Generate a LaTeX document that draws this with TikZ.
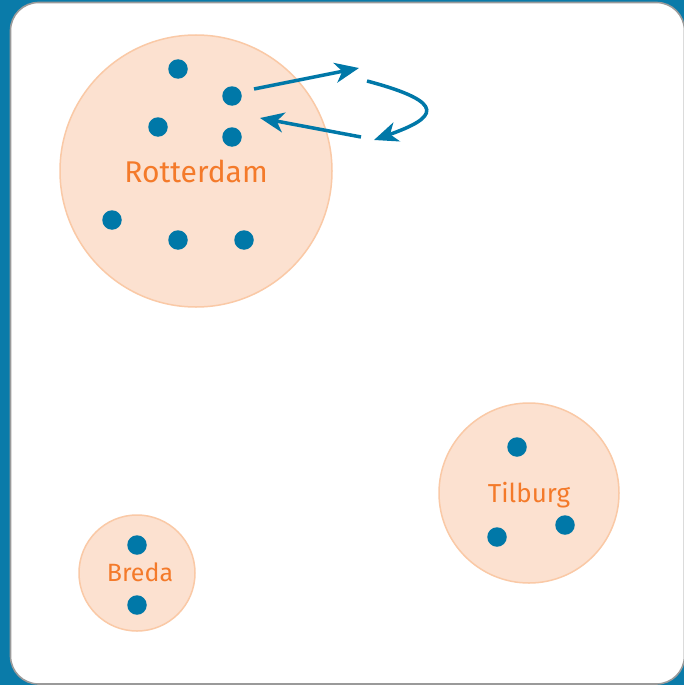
\documentclass[tikz,border=0pt]{standalone}
\usepackage{fontspec}
\setmainfont{Fira Sans}
\usetikzlibrary{arrows.meta}
\definecolor{sea}{HTML}{0A7BA9}
\definecolor{dotblue}{HTML}{0078A8}
\definecolor{peach}{HTML}{FCE1D0}
\definecolor{peachline}{HTML}{FAC9A6}
\definecolor{cityorange}{HTML}{F47A2A}
\definecolor{frame}{HTML}{9A9A9A}
\tikzset{
  city/.style={circle, fill=peach, draw=peachline, line width=1.5pt, inner sep=0pt},
  cityname/.style={text=cityorange, inner sep=0pt, anchor=base},
  member/.style={circle, fill=dotblue, inner sep=0pt, minimum size=19.5pt},
  move/.style={draw=dotblue, line width=3.5pt, -{Stealth[length=24pt, width=20pt, inset=7pt]}},
}
\begin{document}
\begin{tikzpicture}[x=1pt, y=-1pt]
  % sea background and land panel
  \fill[sea] (0,0) rectangle (684,685);
  \useasboundingbox (0,0) rectangle (684,685);
  \draw[fill=white, draw=frame, line width=1.6pt, rounded corners=28pt]
    (10.5,2.5) rectangle (684.5,684);

  % cities
  \node[city, minimum size=272pt] (rot) at (196,171) {};
  \node[city, minimum size=180pt] (til) at (529,493) {};
  \node[city, minimum size=116pt] (bre) at (137,573) {};

  \node[cityname, font=\fontsize{30pt}{35pt}\selectfont] (rotlabel) at (196,182) {Rotterdam};
  \node[cityname, font=\fontsize{26pt}{30pt}\selectfont] (tillabel) at (529,502) {Tilburg};
  \node[cityname, font=\fontsize{25pt}{29pt}\selectfont] (brelabel) at (140,581) {Breda};

  % members in Rotterdam
  \node[member] (r1) at (178,69) {};
  \node[member] (r2) at (232,96) {};
  \node[member] (r3) at (158,127) {};
  \node[member] (r4) at (232,137) {};
  \node[member] (r5) at (112,220) {};
  \node[member] (r6) at (178,240) {};
  \node[member] (r7) at (244,240) {};
  % members in Tilburg
  \node[member] (t1) at (517,447) {};
  \node[member] (t2) at (497,537) {};
  \node[member] (t3) at (565,525) {};
  % members in Breda
  \node[member] (b1) at (137,545) {};
  \node[member] (b2) at (137,605) {};

  % movement out of and back into Rotterdam
  \coordinate (outend) at (359,68);
  \coordinate (loopstart) at (367,81);
  \coordinate (loopend) at (374,140);
  \coordinate (backstart) at (361,137);
  \coordinate (backend) at (260,118);
  \coordinate (outstart) at (254,89);
  \draw[move] (outstart) -- (outend);
  \draw[move] (loopstart) .. controls (450,103) and (436,118) .. (loopend);
  \draw[move] (backstart) -- (backend);
\end{tikzpicture}
\end{document}
